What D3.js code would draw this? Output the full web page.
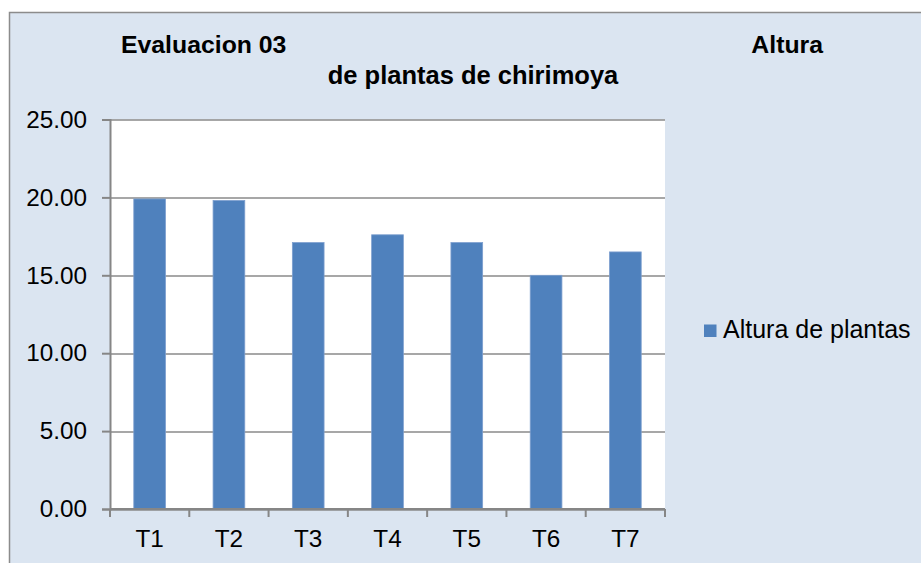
<!DOCTYPE html>
<html>
<head>
<meta charset="utf-8">
<script src="https://cdn.jsdelivr.net/npm/d3@7"></script>
<style>
  body { margin: 0; background: #ffffff; }
  text { font-family: Arial, 'Liberation Sans', sans-serif; fill: #000000; }
</style>
</head>
<body>
<script>
/* Chart data */
var categories = ['T1', 'T2', 'T3', 'T4', 'T5', 'T6', 'T7'];
var alturaValues = [19.9, 19.8, 17.1, 17.6, 17.1, 15.0, 16.5];
var yTicks = [0, 5, 10, 15, 20, 25];
var seriesName = 'Altura de plantas';

/*
 * Draws the bar chart into the page body.
 *
 * @returns void
 */
function draw() {
    /* Define plot margins */
    var margin = {top: 119.5, right: 256, bottom: 54, left: 110},
        width = 921 - margin.left - margin.right,
        height = 563 - margin.top - margin.bottom;

    var svg = d3.select('body')
        .append('svg')
        .attr('width', 921)
        .attr('height', 563);

    /* Chart area background with frame */
    svg.append('rect')
        .attr('x', 9.5)
        .attr('y', 12.5)
        .attr('width', 940)
        .attr('height', 600)
        .attr('fill', '#dbe5f1')
        .attr('stroke', '#8c8c8c')
        .attr('stroke-width', 1.5);

    /* Title */
    svg.append('text')
        .attr('x', 121)
        .attr('y', 53)
        .style('font-size', '24.8px')
        .style('font-weight', 'bold')
        .text('Evaluacion 03');
    svg.append('text')
        .attr('x', 823)
        .attr('y', 53)
        .attr('text-anchor', 'end')
        .style('font-size', '24.8px')
        .style('font-weight', 'bold')
        .text('Altura');
    svg.append('text')
        .attr('x', 473)
        .attr('y', 84)
        .attr('text-anchor', 'middle')
        .style('font-size', '25.5px')
        .style('font-weight', 'bold')
        .text('de plantas de chirimoya');

    var g = svg.append('g')
        .attr('transform', 'translate(' + margin.left + ',' + margin.top + ')');

    /* Plot area */
    g.append('rect')
        .attr('width', width)
        .attr('height', height)
        .attr('fill', '#ffffff');

    var x = d3.scaleBand()
        .domain(categories)
        .range([0, width])
        .paddingInner(0.6)
        .paddingOuter(0.3);

    var y = d3.scaleLinear()
        .domain([0, 25])
        .range([height, 0]);

    /* Gridlines */
    g.selectAll('.grid')
        .data(yTicks)
        .enter()
        .append('line')
        .attr('x1', 0)
        .attr('x2', width)
        .attr('y1', function (d) { return Math.round(y(d)) + 0.5; })
        .attr('y2', function (d) { return Math.round(y(d)) + 0.5; })
        .attr('stroke', '#8a8a8a')
        .attr('stroke-width', 1.3);

    /* Bars */
    g.selectAll('.bar')
        .data(alturaValues)
        .enter()
        .append('rect')
        .attr('x', function (d, i) { return x(categories[i]); })
        .attr('y', function (d) { return y(d); })
        .attr('width', x.bandwidth())
        .attr('height', function (d) { return height - y(d); })
        .attr('fill', '#4f81bd')
        .attr('stroke', '#7d9fcf')
        .attr('stroke-width', 0.8);

    /* Y axis */
    var yAxis = g.append('g')
        .call(d3.axisLeft(y)
              .tickValues(yTicks)
              .tickSize(8)
              .tickPadding(15)
              .tickFormat(d3.format('.2f')));
    yAxis.selectAll('path, line')
        .attr('stroke', '#868686')
        .attr('stroke-width', 2);
    yAxis.selectAll('text')
        .style('font-size', '24.3px')
        .style('font-family', "Arial, 'Liberation Sans', sans-serif")
        .attr('fill', '#000000');

    /* X axis with ticks at category boundaries */
    var xg = g.append('g')
        .attr('transform', 'translate(0,' + height + ')');
    xg.append('line')
        .attr('x1', 0)
        .attr('x2', width)
        .attr('stroke', '#868686')
        .attr('stroke-width', 2);
    xg.selectAll('.xtick')
        .data(d3.range(categories.length + 1))
        .enter()
        .append('line')
        .attr('x1', function (d) { return d * width / categories.length; })
        .attr('x2', function (d) { return d * width / categories.length; })
        .attr('y1', 0)
        .attr('y2', 8)
        .attr('stroke', '#868686')
        .attr('stroke-width', 2);
    xg.selectAll('.xlabel')
        .data(categories)
        .enter()
        .append('text')
        .attr('x', function (d) { return x(d) + x.bandwidth() / 2; })
        .attr('y', 38)
        .attr('text-anchor', 'middle')
        .style('font-size', '24.3px')
        .text(function (d) { return d; });

    /* Legend */
    svg.append('rect')
        .attr('x', 704)
        .attr('y', 324.5)
        .attr('width', 12.5)
        .attr('height', 12.5)
        .attr('fill', '#4f81bd');
    svg.append('text')
        .attr('x', 723)
        .attr('y', 338)
        .style('font-size', '25px')
        .text(seriesName);
}

draw();
</script>
</body>
</html>
